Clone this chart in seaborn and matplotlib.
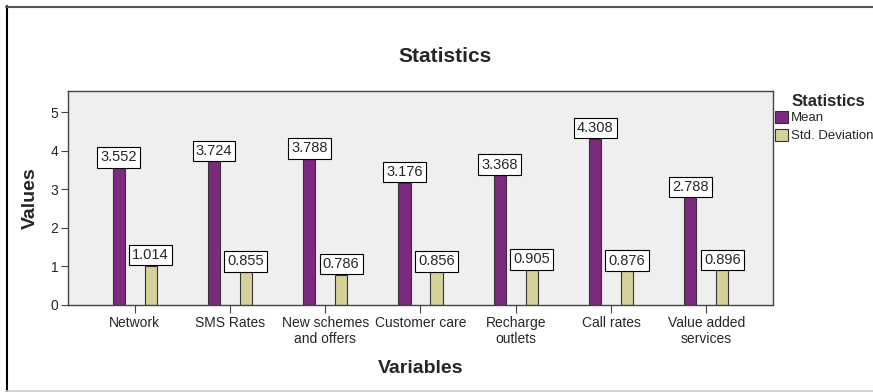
import matplotlib
matplotlib.use("Agg")
import matplotlib.pyplot as plt
import seaborn as sns
import pandas as pd
from matplotlib.lines import Line2D
from matplotlib.patches import Patch

variables = ["Network", "SMS Rates", "New schemes\nand offers", "Customer care",
             "Recharge\noutlets", "Call rates", "Value added\nservices"]
mean_vals = [3.552, 3.724, 3.788, 3.176, 3.368, 4.308, 2.788]
std_vals = [1.014, 0.855, 0.786, 0.856, 0.905, 0.876, 0.896]
stat_names = ["Mean", "Std. Deviation"]
colors = ["#7B2A7E", "#D6D09A"]

df = pd.DataFrame({
    "Variables": variables * 2,
    "Values": mean_vals + std_vals,
    "Statistics": [stat_names[0]] * len(variables) + [stat_names[1]] * len(variables),
})

sns.set_style("white")
plt.rcParams["font.family"] = ["Liberation Sans", "DejaVu Sans"]

fig = plt.figure(figsize=(8.73, 3.92), dpi=100)
ax = fig.add_axes([68 / 873, 1 - 305 / 392, (773 - 68) / 873, (305 - 91) / 392])
ax.set_facecolor("#EFEFEF")

sns.barplot(data=df, x="Variables", y="Values", hue="Statistics",
            palette=colors, saturation=1, width=0.67, gap=0.62, dodge=True,
            edgecolor="#333333", linewidth=0.8, ax=ax, legend=False, errorbar=None)

ax.set_xlim(-0.7, 6.7)
ax.set_ylim(0, 5.55)
ax.set_yticks([0, 1, 2, 3, 4, 5])

for cont in ax.containers:
    for bar in cont:
        h = bar.get_height()
        ax.annotate(f"{h:.3f}", (bar.get_x() + bar.get_width() / 2, h),
                    xytext=(0, 2.6), textcoords="offset points",
                    ha="center", va="bottom", fontsize=10.5,
                    bbox=dict(boxstyle="square,pad=0.22", fc="white", ec="black", lw=0.8))

for s in ax.spines.values():
    s.set_color("#444444")
    s.set_linewidth(1.0)

ax.tick_params(axis="both", which="both", direction="out", length=5, width=0.8,
               color="#444444", labelsize=10, pad=2, left=True, bottom=True)
ax.tick_params(axis="x", length=6, pad=2)
ax.set_xlabel("Variables", fontsize=14, fontweight="bold", labelpad=10)
ax.set_ylabel("Values", fontsize=14, fontweight="bold", labelpad=8)

fig.text(445 / 873, 1 - 57 / 392, "Statistics", ha="center", va="center",
         fontsize=15, fontweight="bold")

# legend box to the right of the plot area
fig.text(792 / 873, 1 - 101 / 392, "Statistics", ha="left", va="center",
         fontsize=12, fontweight="bold")
handles = [Patch(facecolor=c, edgecolor="#333333", linewidth=0.8) for c in colors]
leg = fig.legend(handles, stat_names, loc="upper left",
                 bbox_to_anchor=(775 / 873, 1 - 111 / 392), frameon=False,
                 fontsize=9.5, handlelength=1.0, handleheight=1.0, handletextpad=0.2,
                 labelspacing=0.35, borderpad=0.0, borderaxespad=0)

# outer frame lines
fig.add_artist(Line2D([6.5 / 873, 6.5 / 873], [0, 1 - 6 / 392], color="black", lw=1.5))
fig.add_artist(Line2D([6 / 873, 1], [1 - 6.5 / 392, 1 - 6.5 / 392], color="#555555", lw=1.5))
fig.add_artist(Line2D([6 / 873, 1], [1.5 / 392, 1.5 / 392], color="#CCCCCC", lw=1.2))

fig.savefig("out.png", dpi=100)
